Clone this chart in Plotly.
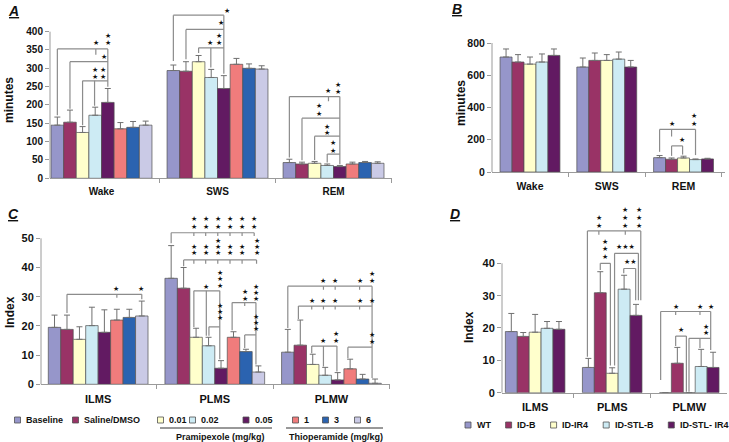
import plotly.graph_objects as go

W, H = 729, 442

# ---------------- data ----------------
A_CATS = ["Wake", "SWS", "REM"]
A_SERIES = ["Baseline", "Saline/DMSO", "0.01", "0.02", "0.05", "1", "3", "6"]
A_MEAN = [[145, 294, 43], [153, 292, 39], [125, 318, 41], [172, 275, 35],
          [207, 245, 32], [135, 311, 39], [139, 300, 43], [145, 298, 41]]
A_SEM = [[22, 15, 9], [33, 26, 5], [16, 17, 5], [22, 22, 4],
         [38, 35, 3], [17, 16, 5], [16, 12, 3], [11, 9, 4]]
A_TICKS = [0, 50, 100, 150, 200, 250, 300, 350, 400]

B_CATS = ["Wake", "SWS", "REM"]
B_SERIES = ["WT", "ID-B", "ID-IR4", "ID-STL-B", "ID-STL- IR4"]
B_MEAN = [[713, 651, 89], [682, 692, 79], [669, 692, 87], [682, 700, 77], [723, 651, 81]]
B_SEM = [[50, 56, 13], [46, 46, 8], [44, 36, 11], [50, 44, 4], [40, 41, 4]]
B_TICKS = [0, 200, 400, 600, 800]

C_CATS = ["ILMS", "PLMS", "PLMW"]
C_MEAN = [[19.5, 36.3, 11.0], [18.8, 32.9, 13.4], [15.4, 16.1, 6.8], [20.1, 13.2, 3.1],
          [17.8, 5.5, 1.5], [22.0, 16.1, 5.3], [22.9, 11.2, 1.8], [23.4, 4.2, 0.35]]
C_SEM = [[4.2, 11.2, 7.8], [4.9, 7.1, 8.6], [4.3, 3.1, 3.5], [6.3, 2.9, 2.7],
         [7.7, 2.6, 2.5], [3.7, 1.9, 3.3], [2.8, 0.8, 1.6], [5.1, 2.1, 1.45]]
C_TICKS = [0, 10, 20, 30, 40, 50]

D_CATS = ["ILMS", "PLMS", "PLMW"]
D_MEAN = [[18.9, 7.8, 0], [17.4, 30.9, 9.1], [18.7, 6.0, 0], [19.9, 32.0, 8.1], [19.6, 23.9, 7.8]]
D_SEM = [[5.6, 2.8, 0], [1.2, 6.5, 4.9], [5.5, 1.7, 0], [2.1, 4.3, 5.3], [2.4, 3.4, 4.7]]
D_TICKS = [0, 10, 20, 30, 40]

COLORS8 = ["#9696CA", "#993366", "#FFFFCC", "#CDEBF4", "#621A62", "#F07C7C", "#2B63B0", "#CACAE6"]
COLORS5 = COLORS8[:5]

# significance brackets: (category, left bar, right bar, level, left bottom, right bottom, ticks[(bar, bottom)])
A_BRACKETS = [
    (0, 0, 4.0, 353, 172, 250, [(3.05, 337)]),
    (0, 1, 4.0, 318, 190, None, []),
    (0, 2, 4.0, 266, 145, None, [(2.95, 198)]),
    (1, 0, 4.0, 445, 320, 285, []),
    (1, 1, 4.0, 406, 325, None, []),
    (1, 2, 4.0, 356, 342, None, [(2.97, 302)]),
    (2, 0, 4.0, 223, 57, 38, [(3.1, 210)]),
    (2, 1, 4.0, 164, 49, None, []),
    (2, 2, 4.0, 115, 50, None, []),
    (2, 3, 4.0, 66, 43, None, []),
]
A_STARS = [
    (0, 3.05, [368], "★"), (0, 4.05, [368, 388], "★"),
    (0, 3.73, [330], "★"),
    (0, 2.95, [275, 295], "★"), (0, 3.6, [275, 295], "★"),
    (1, 4.26, [455], "★"),
    (1, 3.76, [423], "★"),
    (1, 2.9, [370], "★"), (1, 3.6, [370, 389], "★"),
    (2, 3.1, [239], "★"), (2, 3.84, [236, 255], "★"),
    (2, 2.38, [175, 197], "★"),
    (2, 3.02, [123, 141], "★"),
    (2, 3.49, [75, 95], "★"),
]
B_BRACKETS = [
    (2, 0, 3.0, 264, 125, 105, [(1.0, 220)]),
    (2, 1, 1.92, 162, 100, 108, []),
]
B_STARS = [
    (2, 1.0, [297], "★"), (2, 2.86, [297, 349], "★"),
    (2, 1.9, [198], "★"),
]
C_BRACKETS = [
    (0, 1, 7.0, 30.8, 24.4, 29.1, [(5.0, 29.6)]),
    (1, 0, 6.66, 51.9, 48.3, 50.8, [(1.82, 50.8), (2.77, 50.8), (3.74, 50.8), (4.72, 50.8), (5.69, 50.8)]),
    (1, 1, 6.85, 42.6, 40.4, 41.3, [(1.82, 41.3), (2.77, 41.3), (3.74, 41.3), (4.72, 41.3), (5.69, 41.3)]),
    (1, 1.82, 3.9, 32.0, 19.6, 8.6, [(2.82, 16.6)]),
    (1, 3.03, 3.9, 19.7, 16.6, None, []),
    (1, 4.89, 6.8, 28.0, 18.5, 6.8, [(5.9, 26.8)]),
    (1, 5.9, 6.8, 16.9, 12.4, None, []),
    (2, 0, 6.76, 33.6, 19.3, 2.2, [(2.86, 32.4), (3.8, 32.4), (5.76, 32.4)]),
    (2, 0.85, 6.76, 26.8, 22.4, None, [(1.92, 25.6), (2.86, 25.6), (3.8, 25.6), (5.76, 25.6)]),
    (2, 1.92, 3.94, 13.1, 10.6, 4.4, [(2.86, 6.1)]),
    (2, 4.82, 6.76, 12.7, 8.9, None, []),
]
C_STARS = [
    (0, 4.97, [32.6], "★"), (0, 6.97, [32.6], "★"),
    (1, 1.82, [54.0, 56.5], "★"), (1, 2.77, [54.0, 56.5], "★"), (1, 3.74, [54.0, 56.5], "★"),
    (1, 4.72, [54.0, 56.5], "★"), (1, 5.69, [54.0, 56.5], "★"), (1, 6.66, [54.0, 56.5], "★"),
    (1, 1.82, [44.9, 47.1], "★"), (1, 2.77, [44.9, 47.1], "★"), (1, 3.74, [44.9, 47.1, 49.2], "★"),
    (1, 4.72, [44.9, 47.1], "★"), (1, 5.69, [44.9, 47.1], "★"), (1, 6.85, [44.9, 47.1, 49.2], "★"),
    (1, 2.82, [33.4], "★"), (1, 3.9, [33.8, 35.9, 38.0], "★"),
    (1, 3.9, [22.6, 24.8, 26.9], "★"),
    (1, 5.9, [29.2, 31.5], "★"), (1, 6.8, [29.1, 31.2, 33.4], "★"),
    (1, 6.8, [18.8, 20.9, 22.9], "★"),
    (2, 2.86, [35.4], "★"), (2, 3.8, [35.4], "★"), (2, 5.76, [35.4], "★"), (2, 6.76, [35.4, 37.7], "★"),
    (2, 1.92, [28.6], "★"), (2, 2.86, [28.6], "★"), (2, 3.8, [28.6], "★"), (2, 5.76, [28.6], "★"),
    (2, 6.76, [28.6], "★"),
    (2, 2.86, [14.9], "★"), (2, 3.9, [14.9, 17.2], "★"),
    (2, 6.76, [14.5, 16.9], "★"),
]
D_BRACKETS = [
    (1, -0.08, 4.4, 50.0, 11.1, 28.6, [(0.88, 48.8), (3.1, 48.8)]),
    (1, 1.0, 1.85, 40.0, 37.9, 8.4, []),
    (1, 2.2, 4.2, 43.1, 8.4, 28.6, []),
    (1, 2.97, 3.97, 38.4, 36.9, 28.6, []),
    (2, -0.4, 3.8, 25.1, 3.9, 13.2, [(0.86, 24.0), (2.9, 24.0)]),
    (2, 0.86, 1.76, 17.5, 14.4, 0.3, []),
    (2, 1.98, 3.8, 16.8, 0.3, None, [(2.9, 13.8)]),
]
D_STARS = [
    (1, 0.88, [51.6, 54.1], "★"), (1, 3.1, [51.6, 54.1, 56.5], "★"), (1, 4.28, [51.6, 54.1, 56.5], "★"),
    (1, 1.36, [41.9, 44.3, 46.7], "★"),
    (1, 3.1, [44.9], "★★★"),
    (1, 3.56, [40.5], "★★"),
    (2, 0.86, [26.4], "★"), (2, 2.9, [26.4], "★"), (2, 3.8, [26.4], "★"),
    (2, 1.33, [19.4], "★"),
    (2, 3.37, [18.4, 20.4], "★"),
]

# ---------------- layout helpers ----------------
def px(x):
    return x / W


def py(y):
    return 1 - y / H


FONT = "Liberation Sans, Arial, sans-serif"
AXC = "#9a9a9a"
LINEC = "#8c8c8c"

PANELS = {
    "A": dict(xa="x", ya="y", xpx=(50, 392), y0px=178.3, ppu=0.3666, yr=(0, 470), xr=(-0.444, 2.504),
              gap=0.13, cats=A_CATS, mean=A_MEAN, sem=A_SEM, ticks=A_TICKS, colors=COLORS8,
              br=A_BRACKETS, st=A_STARS, fs=10),
    "B": dict(xa="x2", ya="y2", xpx=(492, 725), y0px=172, ppu=0.16125, yr=(0, 800), xr=(-0.495, 2.54),
              gap=0.22, cats=B_CATS, mean=B_MEAN, sem=B_SEM, ticks=B_TICKS, colors=COLORS5,
              br=B_BRACKETS, st=B_STARS, fs=10.5),
    "C": dict(xa="x3", ya="y3", xpx=(41, 389.75), y0px=384.3, ppu=2.92, yr=(0, 60), xr=(-0.49, 2.5),
              gap=0.145, cats=C_CATS, mean=C_MEAN, sem=C_SEM, ticks=C_TICKS, colors=COLORS8,
              br=C_BRACKETS, st=C_STARS, fs=11),
    "D": dict(xa="x4", ya="y4", xpx=(502, 727), y0px=392.7, ppu=3.235, yr=(0, 59), xr=(-0.43, 2.49),
              gap=0.227, cats=D_CATS, mean=D_MEAN, sem=D_SEM, ticks=D_TICKS, colors=COLORS5,
              br=D_BRACKETS, st=D_STARS, fs=11),
}

fig = go.Figure()
shapes = []
annotations = []
layout_axes = {}


def bar_x(P, cat, idx):
    n = len(P["mean"])
    span = 1 - P["gap"]
    w = span / n
    return cat - span / 2 + (idx + 0.5) * w


def vline(P, x, y0, y1, color=LINEC, width=1.2):
    shapes.append(dict(type="line", xref=P["xa"], yref=P["ya"], x0=x, x1=x, y0=y0, y1=y1,
                       line=dict(color=color, width=width)))


for key, P in PANELS.items():
    n = len(P["mean"])
    span = 1 - P["gap"]
    w = span / n
    xs = list(range(len(P["cats"])))
    for i in range(n):
        fig.add_trace(go.Bar(
            x=xs, y=P["mean"][i], width=w, offset=-span / 2 + i * w,
            marker=dict(color=P["colors"][i], line=dict(color="#505050", width=0.7)),
            error_y=dict(type="data", array=P["sem"][i], arrayminus=[0] * len(xs), symmetric=False,
                         color="#707070", thickness=1, width=3),
            xaxis=P["xa"], yaxis=P["ya"], showlegend=False, hoverinfo="skip"))

    y_top_px = P["y0px"] - P["yr"][1] * P["ppu"]
    xname = "xaxis" + P["xa"][1:]
    yname = "yaxis" + P["ya"][1:]
    layout_axes[xname] = dict(
        domain=[px(P["xpx"][0]), px(P["xpx"][1])], range=list(P["xr"]), anchor=P["ya"],
        tickvals=xs, ticktext=P["cats"], ticks="", showline=True, linecolor=AXC, linewidth=1,
        showgrid=False, zeroline=False, ticklabelstandoff=4,
        tickfont=dict(family=FONT, size=P["fs"], color="#111", weight="bold"),
        minor=dict(tick0=0.5, dtick=1, ticks="outside", ticklen=4, tickcolor=AXC, showgrid=False),
        fixedrange=True)
    layout_axes[yname] = dict(
        domain=[py(P["y0px"]), py(y_top_px)], range=list(P["yr"]), anchor=P["xa"],
        tickvals=P["ticks"], ticks="outside", ticklen=4, tickcolor=AXC, showline=False,
        showgrid=False, zeroline=False,
        tickfont=dict(family=FONT, size=P["fs"], color="#111", weight="bold"),
        fixedrange=True)
    # y axis line up to the top tick only
    top_val = P["ticks"][-1]
    shapes.append(dict(type="line", xref="paper", yref="paper",
                       x0=px(P["xpx"][0]), x1=px(P["xpx"][0]),
                       y0=py(P["y0px"]), y1=py(P["y0px"] - top_val * P["ppu"]),
                       line=dict(color=AXC, width=1)))

    # brackets
    for (cat, l, r, lev, lb, rb, ticks) in P["br"]:
        xl = bar_x(P, cat, l)
        xr_ = bar_x(P, cat, r)
        shapes.append(dict(type="line", xref=P["xa"], yref=P["ya"], x0=xl, x1=xr_, y0=lev, y1=lev,
                           line=dict(color=LINEC, width=1.2)))
        vline(P, xl, lev, lb)
        if rb is not None:
            vline(P, xr_, lev, rb)
        for (tx, tb) in ticks:
            vline(P, bar_x(P, cat, tx), lev, tb)
    for (cat, idx, ys, txt) in P["st"]:
        for yv in ys:
            annotations.append(dict(x=bar_x(P, cat, idx), y=yv, xref=P["xa"], yref=P["ya"], text=txt,
                                    showarrow=False, xanchor="center", yanchor="middle",
                                    font=dict(family="DejaVu Sans", size=7, color="#111")))

# panel letters
for letter, (lx, ly) in {"A": (13, 11), "B": (457, 9), "C": (13, 214), "D": (455, 214)}.items():
    annotations.append(dict(x=px(lx), y=py(ly), xref="paper", yref="paper",
                            text="<b><i><u>" + letter + "</u></i></b>", showarrow=False,
                            xanchor="center", yanchor="middle",
                            font=dict(family=FONT, size=14, color="#111")))

# y-axis titles
for txt, (tx, ty), sz, bold in [("minutes", (9, 100), 12, True), ("minutes", (461, 103), 12, True),
                                ("Index", (10, 312), 12, True), ("Index", (469, 327), 12, True)]:
    annotations.append(dict(x=px(tx), y=py(ty), xref="paper", yref="paper",
                            text=("<b>" + txt + "</b>") if bold else txt, textangle=-90,
                            showarrow=False, xanchor="center", yanchor="middle",
                            font=dict(family=FONT, size=sz, color="#111")))

# legends (custom, with grouping underlines)
LEG_C_MARK_X = [17.5, 75.5, 160.5, 192.5, 246, 295.5, 325.5, 357.5]
LEG_C_Y = 420
LEG_D_MARK_X = [468, 508.6, 553.6, 606.2, 671.3]
LEG_D_Y = 425


def legend_item(mx, my, color, label):
    shapes.append(dict(type="rect", xref="paper", yref="paper",
                       x0=px(mx - 3), x1=px(mx + 3), y0=py(my + 3), y1=py(my - 3),
                       fillcolor=color, line=dict(color="#505050", width=0.8)))
    annotations.append(dict(x=px(mx + 6.5), y=py(my), xref="paper", yref="paper", text="<b>" + label + "</b>",
                            showarrow=False, xanchor="left", yanchor="middle",
                            font=dict(family=FONT, size=9, color="#111")))


for mx, col, lab in zip(LEG_C_MARK_X, COLORS8, A_SERIES):
    legend_item(mx, LEG_C_Y, col, lab)
for mx, col, lab in zip(LEG_D_MARK_X, COLORS5, B_SERIES):
    legend_item(mx, LEG_D_Y, col, lab)

for (x0, x1, label, cx) in [(160, 272, "Pramipexole (mg/kg)", 220.5), (286, 383, "Thioperamide (mg/kg)", 335.5)]:
    shapes.append(dict(type="line", xref="paper", yref="paper", x0=px(x0), x1=px(x1),
                       y0=py(428), y1=py(428), line=dict(color="#333", width=1)))
    annotations.append(dict(x=px(cx), y=py(436.5), xref="paper", yref="paper", text="<b>" + label + "</b>",
                            showarrow=False, xanchor="center", yanchor="middle",
                            font=dict(family=FONT, size=9, color="#111")))

fig.update_layout(
    template="none", width=W, height=H, margin=dict(l=0, r=0, t=0, b=0),
    paper_bgcolor="white", plot_bgcolor="white", showlegend=False,
    barmode="overlay", shapes=shapes, annotations=annotations, **layout_axes)

fig.write_html("out.html", config={"displayModeBar": False, "staticPlot": True},
               post_script="document.body.style.margin='0';document.body.style.overflow='hidden';")
